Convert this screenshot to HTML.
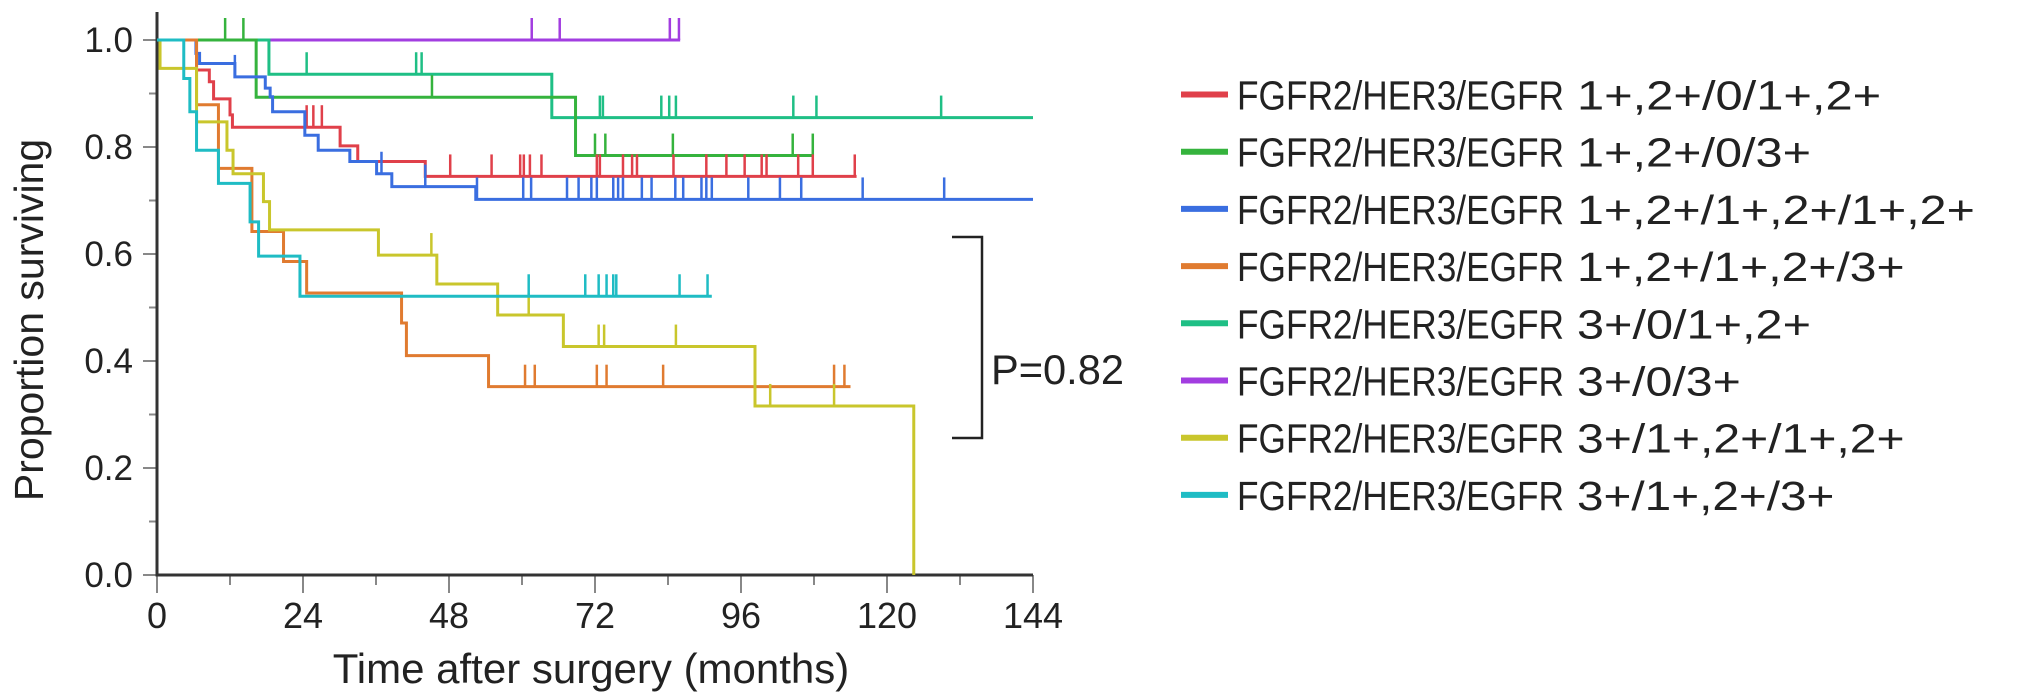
<!DOCTYPE html>
<html><head><meta charset="utf-8"><style>
html,body{margin:0;padding:0;background:#fff;}
svg{display:block;font-family:"Liberation Sans",Arial,sans-serif;}
</style></head><body>
<svg id="chart" width="2031" height="698" viewBox="0 0 2031 698"></svg>
<script>
const xTicks=[0,24,48,72,96,120,144];
const yTicks=[0.0,0.2,0.4,0.6,0.8,1.0];
const seriesNames=["1+,2+/0/1+,2+","1+,2+/0/3+","1+,2+/1+,2+/1+,2+","1+,2+/1+,2+/3+","3+/0/1+,2+","3+/0/3+","3+/1+,2+/1+,2+","3+/1+,2+/3+"];
const seriesColors=["#e0404a","#35b33d","#3a6ee0","#e07b30","#1fbf85","#a23de0","#c9c62c","#1fbcc4"];
// step times and survival after each step
const redT=[6.5,8.6,9.3,12.0,12.4,30.1,33,44.1];
const redS=[0.944,0.922,0.890,0.860,0.837,0.802,0.773,0.745];
const redC=[24.6,25.7,27.1,48.2,55.0,59.7,60.3,61.3,63.2,72.3,72.8,76.6,78.1,78.9,84.9,90.3,93.6,96.6,99.4,100.2,105.4,107.8,114.7];
const redEnd=115;
const greenT=[16.3,68.8];
const greenS=[0.893,0.784];
const greenC=[11.2,14.2,45.2,72,73.7,84.8,104.5,107.8];
const greenEnd=108;
const blueT=[6.4,7.0,12.8,17.8,18.6,19.0,24.3,26.5,31.7,36.1,38.6,52.4];
const blueS=[0.975,0.956,0.931,0.910,0.894,0.866,0.822,0.794,0.773,0.750,0.726,0.702];
const blueC=[12.8,36.9,44.1,52.6,60.2,61.5,67.4,69.3,71.4,72.3,75,75.8,76.6,79.7,81.3,85.2,86.5,89.5,90.3,91.2,97.2,102.4,105.9,116,129.4];
const blueEnd=144;
const orangeT=[6.5,10.1,15.6,20.8,24.6,40.2,41.0,54.5];
const orangeS=[0.879,0.760,0.642,0.586,0.527,0.471,0.410,0.352];
const orangeC=[20.8,60.5,62.1,72.3,73.9,83.2,111.3,113];
const orangeEnd=114;
const tealT=[18.4,64.9];
const tealS=[0.936,0.855];
const tealC=[24.6,42.6,43.5,72.8,73.3,82.9,84.2,85.3,104.6,108.4,128.9];
const tealEnd=144;
const purpleT=[];
const purpleS=[];
const purpleC=[61.6,66.2,84.3,85.8];
const purpleEnd=86;
const yellowT=[0.5,6.5,11.5,12.5,17.5,18.5,36.4,46.0,56.0,66.8,98.3,124.4];
const yellowS=[0.947,0.847,0.794,0.750,0.698,0.645,0.598,0.544,0.486,0.427,0.316,0.0];
const yellowC=[45.1,61.1,72.6,73.5,85.3,100.8,111.3];
const yellowEnd=124.4;
const cyanT=[4.4,5.4,6.5,10.1,15.3,16.7,23.5];
const cyanS=[0.928,0.866,0.794,0.732,0.660,0.596,0.521];
const cyanC=[23.5,61.1,70.4,72.6,73.9,75,75.5,85.9,90.5];
const cyanEnd=91.2;
const pValueText="P=0.82";

const NS="http://www.w3.org/2000/svg";
const svg=document.getElementById('chart');
const X0=157,X1=1033,Y0=575,Y1=40;
function xs(t){return X0+(X1-X0)*t/144;}
function ys(s){return Y0-(Y0-Y1)*s;}
function el(tag,attrs,parent){const e=document.createElementNS(NS,tag);for(const k in attrs)e.setAttribute(k,attrs[k]);(parent||svg).appendChild(e);return e;}

for(let v=0.1;v<1.0;v+=0.2){const t=el('line',{x1:X0-8,x2:X0,y1:ys(v),y2:ys(v),stroke:'#888','stroke-width':2});

}
for(let m=12;m<144;m+=24){const t=el('line',{x1:xs(m),x2:xs(m),y1:Y0,y2:Y0+10,stroke:'#888','stroke-width':2});

}
yTicks.forEach(v=>{
 const t=el('line',{x1:X0-14,x2:X0,y1:ys(v),y2:ys(v),stroke:'#888','stroke-width':2});
 
 
 const l=el('text',{x:133,y:ys(v)+12,'font-size':35,'text-anchor':'end',fill:'#222'});
 l.textContent=v.toFixed(1);
 
 
});
xTicks.forEach(v=>{
 const t=el('line',{x1:xs(v),x2:xs(v),y1:Y0,y2:Y0+18,stroke:'#888','stroke-width':2});
 
 
 const l=el('text',{x:xs(v),y:628,'font-size':36,'text-anchor':'middle',fill:'#222'});
 l.textContent=String(v);
 
 
});
const ax=el('path',{d:`M${X0},${Y1-28} V${Y0} H${X1}`,stroke:'#333','stroke-width':3,fill:'none'});



const xt=el('text',{x:591,y:683,'font-size':42,'text-anchor':'middle',fill:'#222'});
xt.textContent='Time after surgery (months)';


const yt=el('text',{x:0,y:0,'font-size':41,'text-anchor':'middle',fill:'#222',transform:'translate(43,320) rotate(-90)'});
yt.textContent='Proportion surviving';



const series=[[redT,redS,redC,redEnd],[greenT,greenS,greenC,greenEnd],[blueT,blueS,blueC,blueEnd],[orangeT,orangeS,orangeC,orangeEnd],[tealT,tealS,tealC,tealEnd],[purpleT,purpleS,purpleC,purpleEnd],[yellowT,yellowS,yellowC,yellowEnd],[cyanT,cyanS,cyanC,cyanEnd]];
const drawOrder=[5,4,1,0,2,3,6,7];
drawOrder.forEach(i=>{
 const [T,S,C,E]=series[i];
 const g=el('g',{});
 
 
 let d=`M${xs(0)},${ys(1)}`;
 T.forEach((t,k)=>{d+=` H${xs(t)} V${ys(S[k])}`;});
 d+=` H${xs(E)}`;
 const p=el('path',{d:d,stroke:seriesColors[i],'stroke-width':3,fill:'none'},g);
 
 
 C.forEach(c=>{
  let s=1;T.forEach((t,k)=>{if(t<=c)s=S[k];});
  const m=el('line',{x1:xs(c),x2:xs(c),y1:ys(s),y2:ys(s)-22,stroke:seriesColors[i],'stroke-width':2.5},g);
  
  
 });
});

const br=el('path',{d:'M952,237 H982 V438 H952',stroke:'#222','stroke-width':2.5,fill:'none'});


const pv=el('text',{x:991,y:384,'font-size':42,fill:'#222',textLength:133,lengthAdjust:'spacingAndGlyphs'});
pv.textContent=pValueText;



seriesNames.forEach((n,i)=>{
 const y=94.5+i*57.2;
 const g=el('g',{});
 
 
 const sw=el('line',{x1:1181,x2:1228,y1:y,y2:y,stroke:seriesColors[i],'stroke-width':6},g);
 
 
 const a=el('text',{x:1237,y:y+15,'font-size':41,fill:'#222',textLength:327,lengthAdjust:'spacingAndGlyphs'},g);
 a.textContent='FGFR2/HER3/EGFR';
 
 
 const b=el('text',{x:1577,y:y+15,'font-size':41,fill:'#222',textLength:n.length*23.4,lengthAdjust:'spacingAndGlyphs'},g);
 b.textContent=n;
 
 
});
</script>
</body></html>
